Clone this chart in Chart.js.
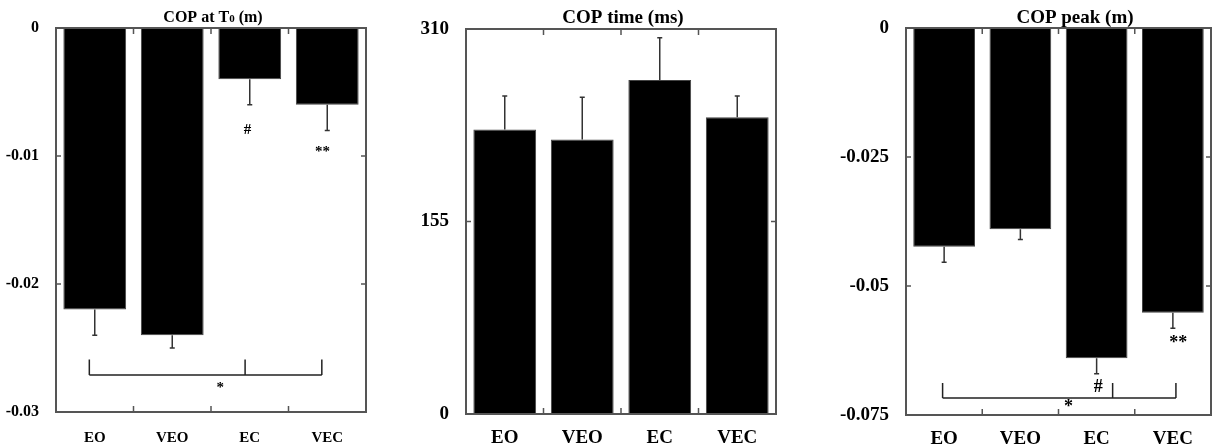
<!DOCTYPE html>
<html>
<head>
<meta charset="utf-8">
<script src="https://cdn.jsdelivr.net/npm/chart.js@4.4.1/dist/chart.umd.min.js"></script>
<style>
  body { margin: 0; background: #fff; }
  .panel { position: absolute; top: 0; height: 445px; }
</style>
</head>
<body>
<div class="panel" style="left:0;width:400px"><canvas id="c1"></canvas></div>
<div class="panel" style="left:400px;width:400px"><canvas id="c2"></canvas></div>
<div class="panel" style="left:820px;width:399px"><canvas id="c3"></canvas></div>
<script>
var categories = ['EO', 'VEO', 'EC', 'VEC'];

var copT0Mean = [-0.022, -0.024, -0.004, -0.006];
var copT0Err = [0.002, 0.001, 0.002, 0.002];

var copTimeMean = [229, 221, 269, 239];
var copTimeErr = [27, 34, 34, 17];

var copPeakMean = [-0.0424, -0.039, -0.064, -0.0552];
var copPeakErr = [0.003, 0.002, 0.003, 0.003];

// significance marks: [category position, value, text]
var copT0Marks = [[1.97, -0.008, '#'], [2.94, -0.0097, '**'], [1.62, -0.0281, '*']];
var copT0Bracket = { xs: [-0.07, 1.94, 2.93], top: -0.0259, bottom: -0.0271 };
var copPeakMarks = [[2.02, -0.0696, '#'], [3.07, -0.0612, '**'], [1.63, -0.0736, '*']];
var copPeakBracket = { xs: [-0.02, 2.21, 3.04], top: -0.0688, bottom: -0.0717 };

var serif = '"Liberation Serif", "Times New Roman", serif';

function fmt(v) { return String(parseFloat(v.toFixed(4))); }

// box, inward ticks, error bars, marks and title
function panelPlugin(cfg) {
  return {
    id: 'panel',
    afterDatasetsDraw: function (chart) {
      var ctx = chart.ctx, a = chart.chartArea;
      var xs = chart.scales.x, ys = chart.scales.y;
      var meta = chart.getDatasetMeta(0);
      ctx.save();

      // error bars (outward only)
      ctx.strokeStyle = '#333';
      ctx.lineWidth = 1.5;
      meta.data.forEach(function (bar, i) {
        var m = cfg.mean[i];
        var end = m < 0 ? m - cfg.err[i] : m + cfg.err[i];
        var y1 = ys.getPixelForValue(end);
        ctx.beginPath();
        ctx.moveTo(bar.x, bar.y);
        ctx.lineTo(bar.x, y1);
        ctx.moveTo(bar.x - 2.5, y1);
        ctx.lineTo(bar.x + 2.5, y1);
        ctx.stroke();
      });

      // frame
      ctx.strokeStyle = '#555';
      ctx.lineWidth = 2;
      ctx.strokeRect(a.left, a.top, a.right - a.left, a.bottom - a.top);

      // inward ticks
      ctx.lineWidth = 1.5;
      ctx.beginPath();
      ys.ticks.forEach(function (t) {
        var y = ys.getPixelForValue(t.value);
        ctx.moveTo(a.left, y); ctx.lineTo(a.left + 5, y);
        ctx.moveTo(a.right, y); ctx.lineTo(a.right - 5, y);
      });
      for (var k = 0; k < categories.length - 1; k++) {
        var x = xs.getPixelForValue(k + 0.5);
        ctx.moveTo(x, a.bottom); ctx.lineTo(x, a.bottom - 6);
        ctx.moveTo(x, a.top); ctx.lineTo(x, a.top + 6);
      }
      ctx.stroke();

      // bracket
      if (cfg.bracket) {
        var b = cfg.bracket;
        var yt = ys.getPixelForValue(b.top), yb = ys.getPixelForValue(b.bottom);
        ctx.strokeStyle = '#222';
        ctx.lineWidth = 1.5;
        ctx.beginPath();
        b.xs.forEach(function (p) {
          var px = xs.getPixelForValue(p);
          ctx.moveTo(px, yt); ctx.lineTo(px, yb);
        });
        ctx.moveTo(xs.getPixelForValue(b.xs[0]), yb);
        ctx.lineTo(xs.getPixelForValue(b.xs[b.xs.length - 1]), yb);
        ctx.stroke();
      }

      // marks
      ctx.fillStyle = '#000';
      ctx.textAlign = 'center';
      ctx.textBaseline = 'middle';
      ctx.font = 'bold ' + cfg.markSize + 'px ' + serif;
      (cfg.marks || []).forEach(function (mk) {
        ctx.fillText(mk[2], xs.getPixelForValue(mk[0]), ys.getPixelForValue(mk[1]));
      });

      // title with mixed sizes
      var parts = cfg.title;
      var total = 0;
      ctx.textBaseline = 'alphabetic';
      ctx.textAlign = 'left';
      parts.forEach(function (p) {
        ctx.font = 'bold ' + p[1] + 'px ' + serif;
        total += ctx.measureText(p[0]).width;
      });
      var tx = cfg.titleX - total / 2;
      parts.forEach(function (p) {
        ctx.font = 'bold ' + p[1] + 'px ' + serif;
        ctx.fillText(p[0], tx, cfg.titleY);
        tx += ctx.measureText(p[0]).width;
      });
      ctx.restore();
    }
  };
}

function makeChart(id, cfg) {
  new Chart(document.getElementById(id), {
    type: 'bar',
    data: {
      labels: categories,
      datasets: [{
        data: cfg.mean,
        backgroundColor: '#000',
        borderColor: '#444',
        borderWidth: 1,
        barPercentage: 0.81,
        categoryPercentage: 1
      }]
    },
    options: {
      responsive: true,
      maintainAspectRatio: false,
      animation: false,
      layout: { padding: { left: 0, right: cfg.padRight, top: cfg.padTop, bottom: 0 } },
      plugins: { legend: { display: false }, tooltip: { enabled: false }, title: { display: false } },
      scales: {
        x: {
          grid: { display: false },
          border: { display: false },
          ticks: { color: '#000', padding: cfg.xPad, font: { family: serif, size: cfg.tickSize, weight: 'bold' } },
          afterFit: function (s) { s.height = cfg.xHeight; }
        },
        y: {
          min: cfg.min,
          max: cfg.max,
          grid: { display: false },
          border: { display: false },
          ticks: {
            stepSize: cfg.step,
            color: '#000',
            padding: 9,
            font: { family: serif, size: cfg.yTickSize, weight: 'bold' },
            callback: function (v) { return fmt(v); }
          },
          afterFit: function (s) { s.width = cfg.yWidth; }
        }
      }
    },
    plugins: [panelPlugin(cfg)]
  });
}

makeChart('c1', {
  mean: copT0Mean, err: copT0Err, min: -0.03, max: 0, step: 0.01,
  marks: copT0Marks, bracket: copT0Bracket, markSize: 15,
  title: [['COP at T', 16], ['0', 11], [' (m)', 16]], titleX: 213, titleY: 22,
  tickSize: 15, yTickSize: 16, padRight: 34, padTop: 28, yWidth: 56, xHeight: 33, xPad: 9
});

makeChart('c2', {
  mean: copTimeMean, err: copTimeErr, min: 0, max: 310, step: 155,
  marks: [], bracket: null, markSize: 18,
  title: [['COP time (ms)', 19]], titleX: 223, titleY: 23,
  tickSize: 19, yTickSize: 19, padRight: 24, padTop: 29, yWidth: 66, xHeight: 31, xPad: 5
});

makeChart('c3', {
  mean: copPeakMean, err: copPeakErr, min: -0.075, max: 0, step: 0.025,
  marks: copPeakMarks, bracket: copPeakBracket, markSize: 18,
  title: [['COP peak (m)', 19]], titleX: 255, titleY: 23,
  tickSize: 19, yTickSize: 19, padRight: 8, padTop: 28, yWidth: 86, xHeight: 30, xPad: 5
});
</script>
</body>
</html>
